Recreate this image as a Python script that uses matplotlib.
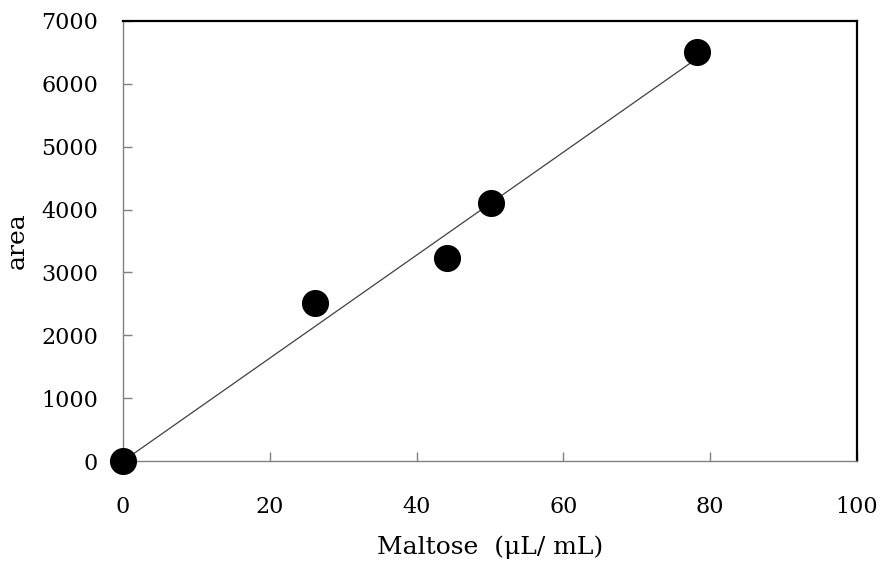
import numpy as np
import matplotlib
matplotlib.use("Agg")
import matplotlib.pyplot as plt

# data
maltose = [0, 26.2, 44.1, 50.1, 78.2]
area = [0, 2509, 3225, 4100, 6502]
xticks = [0, 20, 40, 60, 80, 100]
yticks = [0, 1000, 2000, 3000, 4000, 5000, 6000, 7000]

plt.rcParams['font.family'] = ['DejaVu Serif']

fig = plt.figure(figsize=(8.82, 5.63), dpi=100, facecolor='white')
ax = fig.add_axes([0.1395, 0.181, 0.832, 0.7817])

# linear trendline through origin
x = np.array(maltose)
y = np.array(area)
slope = np.sum(x * y) / np.sum(x * x)
xl = np.array([0, x.max()])
ax.plot(xl, slope * xl, color='#404040', lw=0.9, zorder=2)

ax.plot(maltose, area, 'o', color='black', markersize=18.5, zorder=3, clip_on=False)

ax.set_xlim(0, 100)
ax.set_ylim(0, 7000)
ax.set_xticks(xticks)
ax.set_yticks(yticks)
ax.tick_params(direction='in', length=6.5, width=1, color='#808080',
               labelsize=16, pad=18)
ax.tick_params(axis='x', pad=25)

for s in ['left', 'bottom']:
    ax.spines[s].set_color('#808080')
    ax.spines[s].set_linewidth(1)
for s in ['top', 'right']:
    ax.spines[s].set_color('black')
    ax.spines[s].set_linewidth(1.6)

ax.set_xlabel('Maltose  (μL/ mL)', fontsize=18, labelpad=13)
ax.set_ylabel('area', fontsize=18, labelpad=9)

fig.savefig('out.png', dpi=100, facecolor='white')
